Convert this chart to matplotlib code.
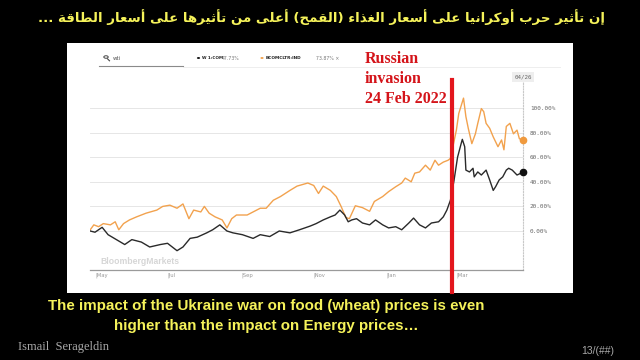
import numpy as np
import matplotlib
matplotlib.use("Agg")
import matplotlib.pyplot as plt
from matplotlib.patches import Rectangle, Circle
from matplotlib.lines import Line2D

# ---------------- data ----------------
black_dates = ["2021-04-27","2021-05-01","2021-05-07","2021-05-12","2021-05-19","2021-05-26",
    "2021-06-01","2021-06-09","2021-06-16","2021-06-25","2021-07-01","2021-07-09","2021-07-14",
    "2021-07-20","2021-07-26","2021-08-03","2021-08-08","2021-08-14","2021-08-20","2021-08-25",
    "2021-09-02","2021-09-11","2021-09-17","2021-09-25","2021-10-03","2021-10-12","2021-10-20",
    "2021-10-29","2021-11-03","2021-11-09","2021-11-15","2021-11-19","2021-11-23","2021-11-27",
    "2021-11-30","2021-12-03","2021-12-07","2021-12-12","2021-12-18","2021-12-23","2021-12-29",
    "2022-01-03","2022-01-09","2022-01-14","2022-01-20","2022-01-24","2022-01-29","2022-02-03",
    "2022-02-08","2022-02-14","2022-02-18","2022-02-21","2022-02-24","2022-02-27","2022-03-02",
    "2022-03-05","2022-03-06","2022-03-08","2022-03-09","2022-03-12","2022-03-15","2022-03-16",
    "2022-03-19","2022-03-22","2022-03-26","2022-03-29","2022-04-01","2022-04-03","2022-04-06",
    "2022-04-09","2022-04-12","2022-04-14","2022-04-17","2022-04-21","2022-04-26"]
black_values = [0,-1,3,-3,-7,-11,-7,-9,-13,-11,-10,-16,-13,-6,-5,-1.5,1,5,0,-1.5,-3,-6,-3,-4.5,
    0,-1.5,1,4,6,9,11.5,13,17,13,7.5,9,10,6.5,5,9,5,2.5,3.5,1,6.5,10.5,5,2.5,6.5,7.5,11.5,17,25,
    41,60,71,74.5,68.5,49.5,48,51,44,48,45.5,49.5,41.5,33,36,41.5,44,49.5,51,49.5,45.5,47.73]

orange_dates = ["2021-04-27","2021-04-30","2021-05-04","2021-05-08","2021-05-14","2021-05-18",
    "2021-05-21","2021-05-25","2021-05-30","2021-06-05","2021-06-13","2021-06-22","2021-06-27",
    "2021-07-03","2021-07-09","2021-07-14","2021-07-19","2021-07-23","2021-07-29","2021-08-01",
    "2021-08-05","2021-08-10","2021-08-16","2021-08-20","2021-08-24","2021-08-28","2021-09-06",
    "2021-09-11","2021-09-17","2021-09-22","2021-09-28","2021-10-04","2021-10-12","2021-10-18",
    "2021-10-27","2021-11-01","2021-11-05","2021-11-09","2021-11-15","2021-11-20","2021-11-24",
    "2021-11-28","2021-12-01","2021-12-06","2021-12-12","2021-12-18","2021-12-22","2021-12-29",
    "2022-01-03","2022-01-09","2022-01-14","2022-01-17","2022-01-22","2022-01-25","2022-01-29",
    "2022-02-03","2022-02-07","2022-02-11","2022-02-14","2022-02-18","2022-02-22","2022-02-24",
    "2022-03-01","2022-03-03","2022-03-07","2022-03-09","2022-03-11","2022-03-14","2022-03-17",
    "2022-03-19","2022-03-22","2022-03-24","2022-03-26","2022-03-29","2022-04-01","2022-04-05",
    "2022-04-08","2022-04-10","2022-04-12","2022-04-15","2022-04-18","2022-04-21","2022-04-23",
    "2022-04-26"]
orange_values = [1,5,3.5,6,5,7.5,1,6,9,11.5,14.5,17,20,21,18.5,22,10,17,15.5,20,14.5,11.5,9,2.5,
    10,13,13,15.5,18.5,18.5,25,28,33,36.5,39,37,30.5,36.5,33,28,20,11,10,20.5,19,16,24,28,32,36,
    39,43,40,47,48,53.5,49.5,57.5,53.5,56,57.5,59,82,95.5,108,93,83.5,71,79,87.5,99.5,97,87.5,
    83.5,76.5,68.5,74,66,85,87.5,79,82,75,73.87]

black_name, black_last = "W 1:COM", "47.73%"
orange_name, orange_last = "BCOMCLTR:IND", "73.87%"
month_ticks = ["2021-05-01", "2021-07-01", "2021-09-01", "2021-11-01", "2022-01-01", "2022-03-01"]
month_labels = ["May", "Jul", "Sep", "Nov", "Jan", "Mar"]
y_ticks = [0, 20, 40, 60, 80, 100]
invasion_date = "2022-02-25"
invasion_label = "Russian\ninvasion\n24 Feb 2022"
date_label = "04/26"

title_ar = "إن تأثير حرب أوكرانيا على أسعار الغذاء (القمح) أعلى من تأثيرها على أسعار الطاقة ..."
caption = "The impact of the Ukraine war on food (wheat) prices is even\nhigher than the impact on Energy prices…"
author = "Ismail  Serageldin"
page = "13/(##)"

# ------------- Arabic shaping (presentation forms + visual order) -------------
_letters = "ءآأؤإئابةتثجحخدذرزسشصضطظعغفقكلمنهوىي"
_counts = [1,2,2,2,2,4,2,4,2,4,4,4,4,4,2,2,2,2,4,4,4,4,4,4,4,4,4,4,4,4,4,4,4,2,2,4]
FORMS = {}
_b = 0xFE80
for ch, cnt in zip(_letters, _counts):
    FORMS[ch] = (_b, cnt)
    _b += cnt
LAMALEF = {"آ": 0xFEF5, "أ": 0xFEF7, "إ": 0xFEF9, "ا": 0xFEFB}


def shape_arabic(text):
    res = []
    n = len(text)
    i = 0
    while i < n:
        c = text[i]
        if c not in FORMS:
            res.append(c)
            i += 1
            continue
        prev = text[i - 1] if i > 0 else ""
        cprev = prev in FORMS and FORMS[prev][1] == 4
        if c == "ل" and i + 1 < n and text[i + 1] in LAMALEF:
            base = LAMALEF[text[i + 1]]
            res.append(chr(base + 1 if cprev else base))
            i += 2
            continue
        base, cnt = FORMS[c]
        nxt = text[i + 1] if i + 1 < n else ""
        cnext = cnt == 4 and nxt in FORMS
        if cnt == 1:
            f = base
        elif cprev and cnext:
            f = base + 3
        elif cprev:
            f = base + 1
        elif cnext:
            f = base + 2
        else:
            f = base
        res.append(chr(f))
        i += 1
    vis = "".join(res)[::-1]
    return vis.translate(str.maketrans("()", ")("))


# ---------------- figure ----------------
W, H = 640, 360
fig = plt.figure(figsize=(6.4, 3.6), dpi=100, facecolor="black")


def fx(x):
    return x / W


def fy(y):
    return 1 - y / H


# white panel (screenshot)
fig.patches.append(Rectangle((fx(67), fy(293)), (573 - 67) / W, (293 - 43) / H,
                             transform=fig.transFigure, facecolor="white", edgecolor="none", zorder=-5))

ax_l, ax_r, ax_t, ax_b = 90, 523, 67, 270
ax = fig.add_axes([fx(ax_l), fy(ax_b), (ax_r - ax_l) / W, (ax_b - ax_t) / H])
ax.set_facecolor("none")
ax.set_zorder(2)

bd = np.array(black_dates, dtype="datetime64[D]")
od = np.array(orange_dates, dtype="datetime64[D]")
ax.plot(od, orange_values, color="#f2a24e", lw=1.0, zorder=3)
ax.plot(bd, black_values, color="#2a2a2a", lw=1.0, zorder=4)
ax.plot(od[-1:], orange_values[-1:], "o", color="#f09a3e", ms=4.5, clip_on=False, zorder=5)
ax.plot(bd[-1:], black_values[-1:], "o", color="#111111", ms=4.5, clip_on=False, zorder=5)

ax.set_xlim(np.datetime64("2021-04-26T19:00"), np.datetime64("2022-04-26T01:00"))
ax.set_ylim(-31.7, 133.3)

for v in y_ticks:
    ax.axhline(v, color="#e6e6e6", lw=0.7, zorder=1)

ax.yaxis.tick_right()
ax.set_yticks(y_ticks)
ax.set_yticklabels([f"{v:.2f}%" for v in y_ticks], family="DejaVu Sans Mono", fontsize=4.3,
                   color="#666666")
ax.tick_params(axis="y", length=0, pad=5)

ax.set_xticks(np.array(month_ticks, dtype="datetime64[D]"))
ax.set_xticklabels(["|" + m for m in month_labels], fontsize=3.8, color="#999999", ha="left")
ax.tick_params(axis="x", length=0, pad=2)

for s in ["top", "left"]:
    ax.spines[s].set_visible(False)
ax.spines["bottom"].set_color("#9a9a9a")
ax.spines["bottom"].set_linewidth(0.9)
ax.spines["right"].set_color("#c8c8c8")
ax.spines["right"].set_linestyle((0, (1, 1.5)))
ax.spines["right"].set_linewidth(0.8)
ax.spines["right"].set_bounds(-31.7, 127)

# invasion line
ax.axvline(np.datetime64(invasion_date), ymin=(ax_b - 292) / (ax_b - ax_t),
           ymax=(ax_b - 80) / (ax_b - ax_t), color="#e3161d", lw=3.0, clip_on=False, zorder=6)
fig.text(fx(365), fy(51), invasion_label, ha="left", va="top", color="#d4141a",
         family="Liberation Serif", fontweight="bold", fontsize=11.5, linespacing=1.32)

# date box
fig.text(fx(523), fy(77), date_label, ha="center", va="center", fontsize=4.2, color="#666666",
         family="DejaVu Sans Mono",
         bbox=dict(boxstyle="square,pad=0.35", facecolor="#eeeeee", edgecolor="none"), zorder=7)

# header row: search + legend
fig.lines.append(Line2D([fx(99), fx(183)], [fy(66), fy(66)], transform=fig.transFigure,
                        color="#8a8a8a", lw=0.8))
fig.lines.append(Line2D([fx(183), fx(560)], [fy(67), fy(67)], transform=fig.transFigure,
                        color="#eeeeee", lw=0.7))
fig.patches.append(Circle((fx(106), fy(57)), 2.2 / W, transform=fig.transFigure,
                          facecolor="none", edgecolor="#444444", lw=0.7))
fig.lines.append(Line2D([fx(107.5), fx(109.5)], [fy(58.8), fy(60.8)], transform=fig.transFigure,
                        color="#444444", lw=0.8))
fig.text(fx(113), fy(58), "wti", fontsize=4, color="#555555", va="center")

fig.patches.append(Circle((fx(198.5), fy(58)), 1.6 / W, transform=fig.transFigure,
                          facecolor="black", edgecolor="none"))
fig.text(fx(202), fy(58), black_name, fontsize=3.0, fontweight="bold", color="#222222", va="center")
fig.text(fx(222), fy(58), black_last, fontsize=3.3, color="#777777", va="center")
fig.patches.append(Circle((fx(262), fy(58)), 1.6 / W, transform=fig.transFigure,
                          facecolor="#f09a3e", edgecolor="none"))
fig.text(fx(266), fy(58), orange_name, fontsize=3.1, fontweight="bold", color="#222222", va="center")
fig.text(fx(316), fy(58), orange_last + " ×", fontsize=3.3, color="#777777", va="center")

# watermark
fig.text(fx(100), fy(262), "BloombergMarkets", fontsize=6.2, fontweight="bold", color="#d6d6d6",
         va="center", family="Liberation Sans")

# slide texts
fig.text(fx(322), fy(17), shape_arabic(title_ar), ha="center", va="center", color="#f5f25a",
         fontsize=9.6, fontweight="bold", family="DejaVu Sans")
fig.text(fx(266), fy(316), caption, ha="center", va="center", color="#f5f25a", fontsize=10.9,
         fontweight="bold", family="Liberation Sans", linespacing=1.55)
fig.text(fx(18), fy(347), author, ha="left", va="center", color="#a8a8a8", fontsize=9,
         family="Liberation Serif")
fig.text(fx(614), fy(351), page, ha="right", va="center", color="#a8a8a8", fontsize=7.5,
         family="Liberation Sans")

fig.savefig("out.png", dpi=100, facecolor="black")
